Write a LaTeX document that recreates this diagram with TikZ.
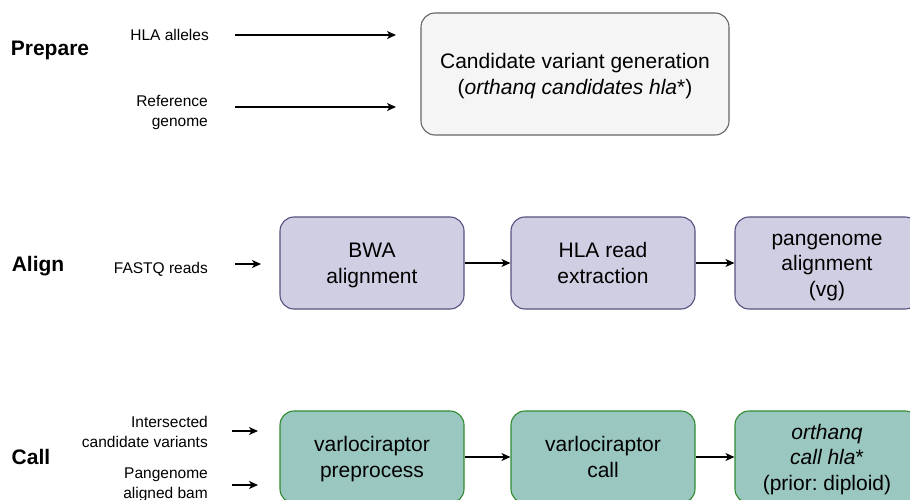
\documentclass[tikz,border=0pt]{standalone}
\usepackage{fontspec}
\setmainfont{Liberation Sans}
\usetikzlibrary{arrows.meta}
\definecolor{grayfill}{HTML}{F5F5F5}
\definecolor{graydraw}{HTML}{666666}
\definecolor{purfill}{HTML}{D0CEE2}
\definecolor{purdraw}{HTML}{56517E}
\definecolor{grnfill}{HTML}{9AC7BF}
\definecolor{grndraw}{HTML}{2F8A2F}
\newcommand{\bxt}[1]{\raisebox{-2.5pt}[\height][\depth]{\begin{tabular}{@{}c@{}}#1\end{tabular}}}
\frenchspacing
\begin{document}
\begin{tikzpicture}[x=1pt,y=-1pt,
  phase/.style={font=\fontsize{21}{25}\selectfont\bfseries, inner sep=0pt},
  inlabel/.style={font=\fontsize{15.5}{20}\selectfont, align=right, anchor=east, inner sep=0pt},
  box/.style={rounded corners=14pt, line width=1.1pt, minimum width=184pt, minimum height=92pt,
    inner sep=0pt, font=\fontsize{21}{25.5}\selectfont},
  graybox/.style={box, fill=grayfill, draw=graydraw, minimum width=308pt, minimum height=122pt},
  purbox/.style={box, fill=purfill, draw=purdraw},
  grnbox/.style={box, fill=grnfill, draw=grndraw},
  arr/.style={line width=1.3pt, -{Stealth[length=9pt, width=8pt, inset=2.5pt]}}
]
\useasboundingbox (0,0) rectangle (910,500);
\clip (0,0) rectangle (910,500);

% Prepare row
\node[phase] (prep) at (50,50) {Prepare};
\node[inlabel] (hlaal) at (209,35) {HLA alleles};
\node[inlabel] (refg) at (208,113) {Reference\\genome};
\node[graybox] (cand) at (575,74) {\bxt{Candidate variant generation\\(\textit{orthanq candidates hla}*)}};
\coordinate (a1s) at (235,35);  \coordinate (a1e) at (396,35);
\coordinate (a2s) at (235,107); \coordinate (a2e) at (396,107);
\draw[arr] (a1s) -- (a1e);
\draw[arr] (a2s) -- (a2e);

% Align row
\node[phase] (align) at (38,266) {Align};
\node[inlabel] (fastq) at (208,269) {FASTQ reads};
\node[purbox] (bwa) at (372,263) {\bxt{BWA\\alignment}};
\node[purbox] (hlaext) at (603,263) {\bxt{HLA read\\extraction}};
\node[purbox] (pang) at (827,263) {\bxt{pangenome\\alignment\\(vg)}};
\coordinate (a3s) at (235,264); \coordinate (a3e) at (261,264);
\draw[arr] (a3s) -- (a3e);
\draw[arr] (bwa) -- (hlaext);
\draw[arr] (hlaext) -- (pang);

% Call row
\node[phase] (call) at (31,457) {Call};
\node[inlabel] (isect) at (208,432) {Intersected\\candidate variants};
\node[inlabel] (pbam) at (208,485) {Pangenome\\aligned bam};
\node[grnbox] (prepro) at (372,457) {\bxt{varlociraptor\\preprocess}};
\node[grnbox] (vcall) at (603,457) {\bxt{varlociraptor\\call}};
\node[grnbox] (ocall) at (827,457) {\bxt{\textit{orthanq}\\\textit{call hla}*\\(prior: diploid)}};
\coordinate (a4s) at (232,431); \coordinate (a4e) at (258,431);
\coordinate (a5s) at (232,485); \coordinate (a5e) at (258,485);
\draw[arr] (a4s) -- (a4e);
\draw[arr] (a5s) -- (a5e);
\draw[arr] (prepro) -- (vcall);
\draw[arr] (vcall) -- (ocall);
\end{tikzpicture}
\end{document}
